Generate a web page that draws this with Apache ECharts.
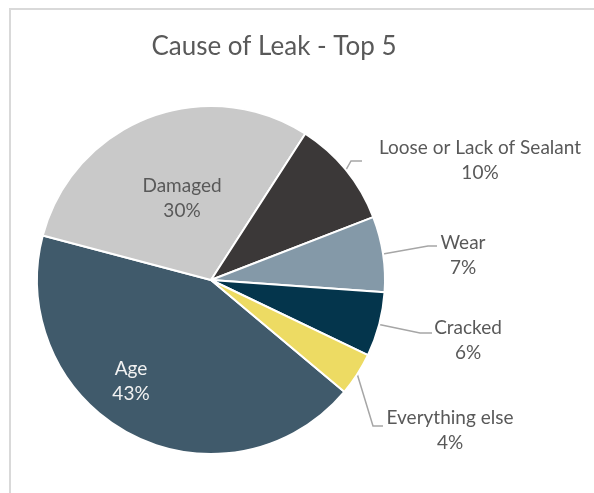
<!DOCTYPE html>
<html>
<head>
<meta charset="utf-8">
<script src="https://cdn.jsdelivr.net/npm/echarts@6/dist/echarts.min.js"></script>
<style>
  html, body { margin: 0; padding: 0; background: #ffffff; }
  #chart { width: 594px; height: 493px; }
</style>
</head>
<body>
<div id="chart"></div>
<script>
// Leak causes, in the order they are laid round the pie
const categories = ['Age', 'Damaged', 'Loose or Lack of Sealant', 'Wear', 'Cracked', 'Everything else'];
const shares = [43, 30, 10, 7, 6, 4];
const sliceColors = ['#405a6b', '#c9c9c9', '#3b3838', '#8499a8', '#04354c', '#eddb63'];

// Where each label sits, and the bend and end of its leader line
const labelSpots = {
  'Age': { at: [131, 381] },
  'Damaged': { at: [182, 198] },
  'Loose or Lack of Sealant': { at: [480, 160], bend: [351, 161], end: [362, 161] },
  'Wear': { at: [463, 255], bend: [428, 246], end: [437, 246] },
  'Cracked': { at: [468, 340], bend: [420, 333], end: [432, 333] },
  'Everything else': { at: [450, 430], bend: [373, 426], end: [383, 426] }
};
const insideNames = ['Age', 'Damaged'];

const FONT = 'Lato';

const chart = echarts.init(document.getElementById('chart'), null, { renderer: 'canvas' });

const data = categories.map((name, i) => {
  const inside = insideNames.indexOf(name) >= 0;
  return {
    name: name,
    value: shares[i],
    itemStyle: { color: sliceColors[i] },
    label: {
      position: inside ? 'inside' : 'outside',
      color: name === 'Age' ? '#f2f2f2' : '#595959'
    },
    labelLine: { show: !inside }
  };
});

chart.setOption({
  animation: false,
  backgroundColor: '#ffffff',
  title: {
    text: 'Cause of Leak - Top 5',
    left: 269,
    top: 29,
    textAlign: 'center',
    textStyle: { fontFamily: FONT, fontSize: 26, fontWeight: 'normal', color: '#595959' }
  },
  graphic: [{
    type: 'polyline',
    shape: { points: [[10, 493], [10, 9], [594, 9]] },
    style: { stroke: '#d9d9d9', lineWidth: 2, fill: null },
    silent: true
  }],
  series: [{
    type: 'pie',
    center: [211, 280],
    radius: [0, 174],
    startAngle: -40,
    clockwise: true,
    avoidLabelOverlap: false,
    itemStyle: { borderColor: '#ffffff', borderWidth: 2 },
    label: {
      formatter: '{b}\n{d}%',
      fontFamily: FONT,
      fontSize: 19,
      lineHeight: 25,
      align: 'center'
    },
    labelLine: {
      show: true,
      length: 20,
      length2: 10,
      lineStyle: { color: '#a6a6a6', width: 1.5 }
    },
    labelLayout: function (params) {
      const name = categories[params.dataIndex];
      const spot = labelSpots[name];
      const out = { x: spot.at[0], y: spot.at[1], align: 'center', verticalAlign: 'middle' };
      if (spot.bend && params.labelLinePoints) {
        out.labelLinePoints = [params.labelLinePoints[0], spot.bend, spot.end];
      }
      return out;
    },
    data: data
  }]
});
</script>
</body>
</html>
